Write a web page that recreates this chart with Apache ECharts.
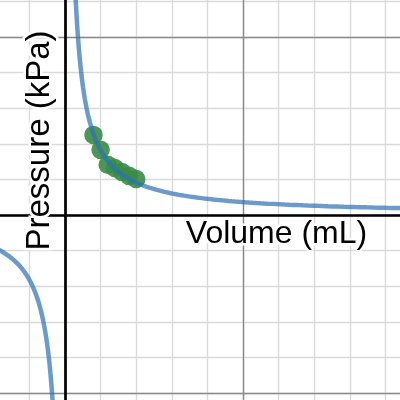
<!DOCTYPE html>
<html>
<head>
<meta charset="utf-8">
<script src="https://cdn.jsdelivr.net/npm/echarts@6/dist/echarts.min.js"></script>
<style>
html,body{margin:0;padding:0;background:#fff;width:400px;height:400px;overflow:hidden;position:relative}
#c{position:absolute;left:-113px;top:-141px;width:534px;height:712px}
</style>
</head>
<body>
<div id="c"></div>
<script>
// Data
const volume = [8, 10, 12, 14, 16, 18, 20];
const pressure = [22.5, 18.3, 14.1, 13.2, 12.1, 11.0, 10.1];
// Fitted model P = curveK / V (Boyle's law curve drawn in the reference)
const curveK = 182;
const xLabel = 'Volume (mL)';
const yLabel = 'Pressure (kPa)';

const points = volume.map((v, i) => [v, pressure[i]]);

// Sample the model curve on both branches (geometric spacing)
const curve = [];
const xStart = curveK / 100;
for (let x = xStart; x <= 100; x *= 1.02) curve.push([x, curveK / x]);
curve.push([100, curveK / 100]);
curve.push(['-', '-']);
for (let x = 50; x >= xStart; x /= 1.02) curve.push([-x, -curveK / x]);
curve.push([-xStart, -100]);

// The chart canvas is larger than the window and shifted so that the
// visible 400x400 area shows x in about [-18, 94] and y in about [-52, 60].
const offX = 113, offY = 141;

const chart = echarts.init(document.getElementById('c'), null, {renderer: 'canvas'});
const hidden = {axisLabel: {show: false}, axisTick: {show: false}, axisLine: {show: false}};
const minorLine = {show: true, lineStyle: {color: '#dadada', width: 1.4}};
const majorLine = {show: true, lineStyle: {color: '#8a8a8a', width: 1.4}};
chart.setOption({
  animation: false,
  backgroundColor: '#fff',
  grid: {left: 0, right: 0, top: 0, bottom: 0, containLabel: false},
  xAxis: [
    Object.assign({type: 'value', min: -50, max: 100, interval: 10, splitLine: minorLine, z: 0}, hidden),
    Object.assign({type: 'value', min: -50, max: 100, interval: 50, splitLine: majorLine, z: 1}, hidden)
  ],
  yAxis: [
    Object.assign({type: 'value', min: -100, max: 100, interval: 10, splitLine: minorLine, z: 0}, hidden),
    Object.assign({type: 'value', min: -100, max: 100, interval: 50, splitLine: majorLine, z: 1}, hidden)
  ],
  series: [
    {
      type: 'line', data: [], z: 2, silent: true,
      markLine: {
        silent: true, symbol: 'none', label: {show: false},
        lineStyle: {color: '#000', width: 2.7, type: 'solid'},
        data: [{xAxis: 0}, {yAxis: 0}]
      }
    },
    {
      type: 'scatter', data: points, z: 3, symbolSize: 18.5,
      itemStyle: {color: '#388c46', opacity: 0.9}
    },
    {
      type: 'line', data: curve, z: 4, showSymbol: false, connectNulls: false,
      lineStyle: {color: '#2d70b3', width: 4.5, opacity: 0.7}
    }
  ],
  graphic: [
    {
      type: 'text', x: 40 + offX, y: 140.5 + offY, rotation: Math.PI / 2, z: 10,
      style: {text: yLabel, fill: '#000', font: '33px "Liberation Sans", Arial, sans-serif',
        align: 'center', verticalAlign: 'middle', stroke: '#fff', lineWidth: 5}
    },
    {
      type: 'text', x: 276.5 + offX, y: 234 + offY, z: 10,
      style: {text: xLabel, fill: '#000', font: '32px "Liberation Sans", Arial, sans-serif',
        align: 'center', verticalAlign: 'middle', stroke: '#fff', lineWidth: 5}
    }
  ]
});
</script>
</body>
</html>
